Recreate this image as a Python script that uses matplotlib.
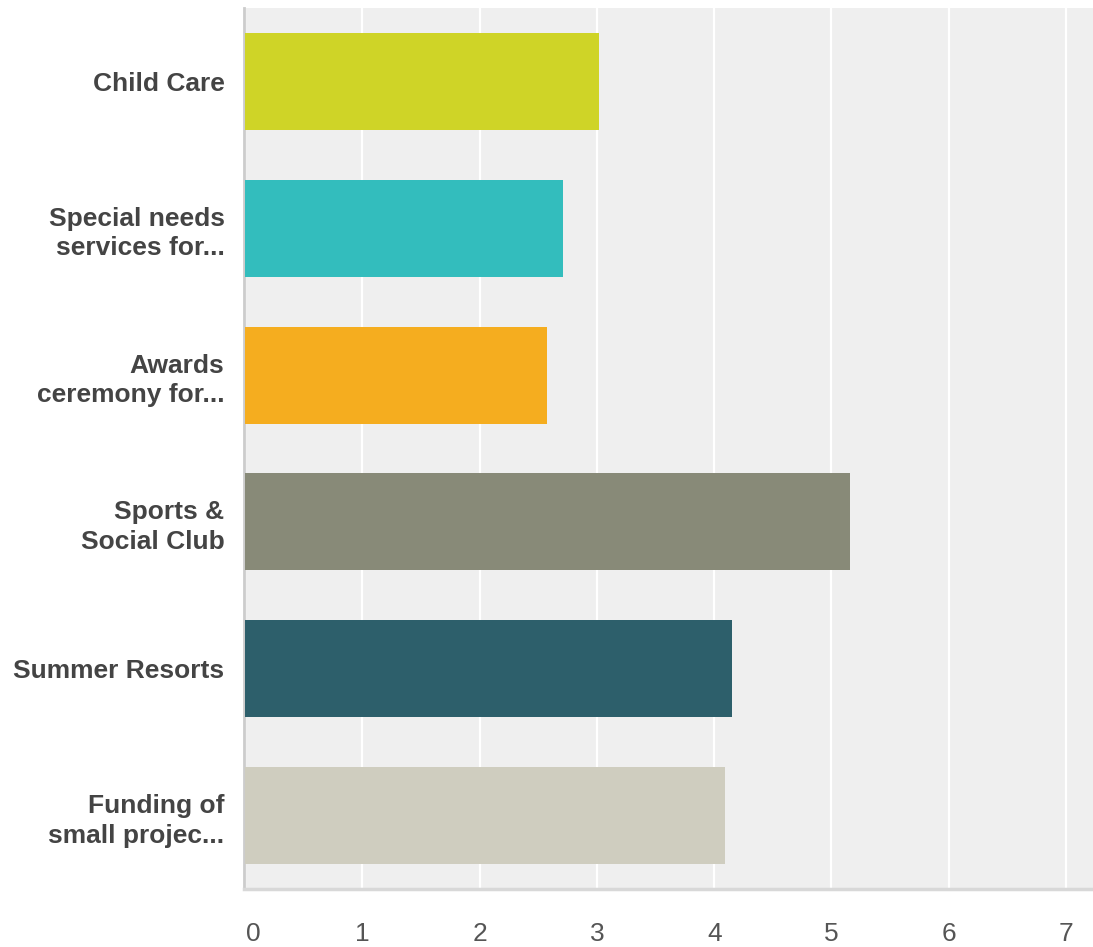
import matplotlib
matplotlib.use('Agg')
import matplotlib.pyplot as plt
from matplotlib.transforms import ScaledTranslation

# Datos
categorias = ['Child Care', 'Special needs\nservices for...', 'Awards\nceremony for...',
              'Sports &\nSocial Club', 'Summer Resorts', 'Funding of\nsmall projec...']
valores = [3.02, 2.71, 2.57, 5.16, 4.15, 4.09]
colores = ['#cfd427', '#33bdbd', '#f5ad1f', '#888a78', '#2d5f6b', '#cfcdbf']
ticks_x = [0, 1, 2, 3, 4, 5, 6, 7]

plt.rcParams['font.family'] = ['Liberation Sans', 'DejaVu Sans']

fig = plt.figure(figsize=(10.93, 9.47), dpi=100)
ax = fig.add_axes([0.2232, 0.0612, 0.7768, 0.9304])
ax.set_facecolor('#efefef')

posiciones = list(range(len(categorias)))
ax.barh(posiciones, valores, height=0.66, color=colores, zorder=3)

ax.set_xlim(-0.01, 7.23)
ax.set_ylim(5.5, -0.5)
ax.set_xticks(ticks_x)
ax.set_xticklabels([str(t) for t in ticks_x], fontsize=19, color='#555555')
ax.set_yticks(posiciones)
ax.set_yticklabels(categorias, fontsize=19, fontweight='bold', color='#444444',
                   linespacing=1.3)
ax.tick_params(axis='x', length=0, pad=24)
ax.tick_params(axis='y', length=0, pad=14)
ax.grid(axis='x', color='white', linewidth=1.6, zorder=1)

# el "0" esta un poco desplazado a la derecha en el original
etiqueta0 = ax.get_xticklabels()[0]
etiqueta0.set_transform(etiqueta0.get_transform() + ScaledTranslation(0.08, 0, fig.dpi_scale_trans))

for lado in ['top', 'right']:
    ax.spines[lado].set_visible(False)
ax.spines['left'].set_color('#cccccc')
ax.spines['left'].set_linewidth(2)
ax.spines['bottom'].set_color('#d8d8d8')
ax.spines['bottom'].set_linewidth(2.5)

fig.savefig('out.png', dpi=100)
